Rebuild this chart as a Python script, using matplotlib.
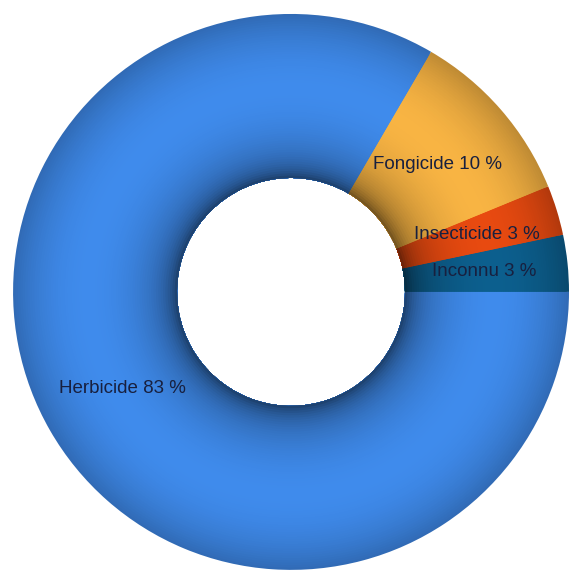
import numpy as np
import matplotlib
matplotlib.use('Agg')
import matplotlib.pyplot as plt
from matplotlib.colors import to_rgb

# Données
categories = ['Inconnu', 'Insecticide', 'Fongicide', 'Herbicide']
valeurs = [3.3, 2.9, 10.4, 83.4]
etiquettes = ['Inconnu 3 %', 'Insecticide 3 %', 'Fongicide 10 %', 'Herbicide 83 %']
couleurs = ['#0C5F8E', '#E84A10', '#F8B443', '#3F8BEC']

fig = plt.figure(figsize=(5.69, 5.73), dpi=100)
ax = fig.add_axes([0, 0, 1, 1])

r_in = 0.41
n = 70
rayons = np.linspace(1.0, r_in, n + 1)[:-1]

# Anneaux du plus grand au plus petit pour l'effet de relief
for r in rayons:
    t = (r - r_in) / (1 - r_in)
    f = 1 - 0.34 * ((t - 0.55) / 0.55) ** 2 - 0.25 * np.exp(-t / 0.06)
    cols = [tuple(np.clip(np.array(to_rgb(c)) * f, 0, 1)) for c in couleurs]
    wedges, _ = ax.pie(valeurs, radius=r, colors=cols, startangle=0,
                       counterclock=True,
                       wedgeprops=dict(width=r - r_in, edgecolor='none', linewidth=0))

# Etiquettes
for w, txt in zip(wedges, etiquettes):
    a = np.deg2rad((w.theta1 + w.theta2) / 2)
    ax.text(0.7 * np.cos(a), 0.7 * np.sin(a), txt, ha='center', va='center',
            fontsize=13.5, color='#18203f', family=['Liberation Sans', 'DejaVu Sans'])

ax.set_xlim(-1.047, 1.0)
ax.set_ylim(-1.011, 1.050)
ax.axis('off')

fig.savefig('out.png', dpi=100, facecolor='white')
